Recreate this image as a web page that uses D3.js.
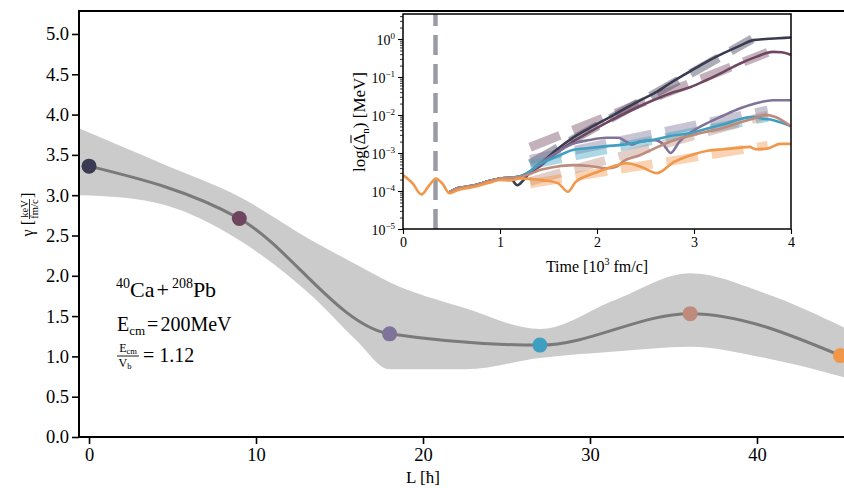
<!DOCTYPE html>
<html>
<head>
<meta charset="UTF-8">
<title>gamma vs L</title>
<style>
  body { margin: 0; background: #fff; overflow: hidden; }
  text { font-family: "Liberation Serif", "Times New Roman", serif; fill: #000; }
</style>
<script src="https://cdn.jsdelivr.net/npm/d3@7"></script>
</head>
<body>
<script>
// main panel: gamma vs angular momentum
const L = [0, 9, 18, 27, 36, 45];
const gamma = [3.36, 2.71, 1.28, 1.14, 1.53, 1.01];
const pointColors = ["#3a3a52", "#6f4660", "#7f7399", "#3e9fc0", "#bd8a7c", "#f0974a"];

// uncertainty band
const bandL = [-0.6, 2, 4.5, 9, 13.5, 16, 18, 22.5, 27, 31.5, 36, 40.5, 45.6];
const bandUpper = [3.83, 3.6, 3.38, 2.98, 2.42, 2.14, 1.92, 1.6, 1.34, 1.7, 2.03, 1.78, 1.32];
const bandLower = [3.0, 2.97, 2.88, 2.44, 1.72, 1.2, 0.84, 0.84, 0.98, 1.06, 1.12, 0.98, 0.72];

const yTicks = [0, 0.5, 1, 1.5, 2, 2.5, 3, 3.5, 4, 4.5, 5];
const xTicks = [0, 10, 20, 30, 40];

// inset: log10 of Delta_n vs time (10^3 fm/c)
const earlyT = [0, 0.1, 0.19, 0.27, 0.34, 0.41, 0.48, 0.56, 0.65, 0.75, 0.83, 0.92, 1.0, 1.1];
const earlyLog45 = [-3.58, -3.8, -4.09, -3.85, -3.67, -3.82, -4.06, -3.98, -3.93, -3.88, -3.82, -3.76, -3.71, -3.72];
const othersT = [0.48, 0.56, 0.65, 0.75, 0.83, 0.92, 1.0, 1.1];
const othersLog = [-4.03, -3.93, -3.89, -3.84, -3.78, -3.72, -3.67, -3.65];

const tailT0 = [1.18, 1.24, 1.31, 1.41, 1.58, 1.75, 1.92, 2.1, 2.27, 2.44, 2.61, 2.78, 2.96, 3.13, 3.3, 3.47, 3.61, 3.74, 3.87, 4.0];
const tailLog0 = [-3.85, -3.72, -3.5, -3.3, -2.92, -2.6, -2.35, -2.1, -1.86, -1.62, -1.4, -1.12, -0.85, -0.6, -0.38, -0.18, -0.03, 0.0, 0.02, 0.04];
const tailT9 = [1.2, 1.31, 1.41, 1.58, 1.75, 1.92, 2.1, 2.27, 2.44, 2.61, 2.78, 2.96, 3.13, 3.3, 3.47, 3.64, 3.81, 3.9, 4.0];
const tailLog9 = [-3.62, -3.5, -3.35, -3.0, -2.7, -2.45, -2.2, -1.98, -1.77, -1.58, -1.41, -1.27, -1.08, -0.87, -0.65, -0.47, -0.34, -0.35, -0.42];
const tailT18 = [1.2, 1.31, 1.41, 1.58, 1.75, 1.92, 2.1, 2.22, 2.3, 2.36, 2.44, 2.6, 2.68, 2.76, 2.85, 2.96, 3.13, 3.3, 3.47, 3.64, 3.81, 4.0];
const tailLog18 = [-3.62, -3.48, -3.28, -3.0, -2.76, -2.66, -2.6, -2.6, -2.7, -2.78, -2.7, -2.66, -2.76, -3.0, -2.7, -2.47, -2.22, -2.02, -1.83, -1.69, -1.61, -1.61];
const tailT27 = [1.2, 1.31, 1.41, 1.58, 1.75, 1.92, 2.1, 2.27, 2.44, 2.61, 2.78, 2.96, 3.13, 3.3, 3.47, 3.62, 3.71, 3.81, 3.9, 4.0];
const tailLog27 = [-3.62, -3.48, -3.3, -3.1, -2.92, -2.87, -2.82, -2.78, -2.71, -2.64, -2.54, -2.48, -2.36, -2.25, -2.11, -2.05, -2.1, -2.13, -2.2, -2.3];
const tailT36 = [1.2, 1.31, 1.41, 1.58, 1.75, 1.92, 2.1, 2.2, 2.27, 2.44, 2.61, 2.78, 2.96, 3.13, 3.3, 3.47, 3.64, 3.74, 3.84, 4.0];
const tailLog36 = [-3.63, -3.55, -3.45, -3.36, -3.32, -3.34, -3.4, -3.36, -3.22, -3.06, -2.86, -2.68, -2.54, -2.44, -2.34, -2.2, -2.07, -2.0, -2.05, -2.3];
const tailT45 = [1.21, 1.31, 1.45, 1.6, 1.7, 1.78, 1.9, 2.06, 2.31, 2.45, 2.62, 2.79, 3.0, 3.14, 3.3, 3.47, 3.57, 3.64, 3.76, 3.89, 4.0];
const tailLog45 = [-3.67, -3.68, -3.72, -3.8, -4.02, -3.76, -3.6, -3.45, -3.27, -3.36, -3.53, -3.24, -3.03, -2.94, -2.9, -2.86, -2.84, -2.9, -2.88, -2.76, -2.76];

// straight exponential fits (start/end)
const fitT = [[1.31, 3.6], [1.31, 3.76], [1.31, 3.76], [1.31, 3.76], [1.31, 3.76], [1.31, 3.76]];
const fitLog = [[-3.28, 0.0], [-2.85, -0.35], [-3.17, -1.87], [-3.31, -2.06], [-3.75, -2.0], [-3.81, -2.8]];
const onsetTime = 0.335;

const width = 844, height = 488;
const svg = d3.select("body").append("svg").attr("width", width).attr("height", height);

const x = d3.scaleLinear().domain([-0.6, 45.6]).range([79, 850.5]);
const y = d3.scaleLinear().domain([0, 5.285]).range([437, 11]);

// band
const bandData = bandL.map((l, i) => ({l, hi: bandUpper[i], lo: bandLower[i]}));
svg.append("path")
  .datum(bandData)
  .attr("fill", "#cbcbcb")
  .attr("d", d3.area().curve(d3.curveMonotoneX)
    .x(d => x(d.l)).y0(d => y(d.lo)).y1(d => y(d.hi)));

// mean curve
const pts = L.map((l, i) => ({l, g: gamma[i], c: pointColors[i]}));
svg.append("path")
  .datum(pts)
  .attr("fill", "none")
  .attr("stroke", "#7a7a7a")
  .attr("stroke-width", 3)
  .attr("d", d3.line().curve(d3.curveMonotoneX).x(d => x(d.l)).y(d => y(d.g)));

svg.selectAll("circle.pt")
  .data(pts)
  .join("circle")
  .attr("class", "pt")
  .attr("cx", d => x(d.l))
  .attr("cy", d => y(d.g))
  .attr("r", 7.5)
  .attr("fill", d => d.c);

// axes
const yAxis = svg.append("g")
  .attr("transform", "translate(79,0)")
  .call(d3.axisLeft(y).tickValues(yTicks).tickFormat(d3.format(".1f")).tickSize(7).tickPadding(3));
const xAxis = svg.append("g")
  .attr("transform", "translate(0,437)")
  .call(d3.axisBottom(x).tickValues(xTicks).tickSize(7).tickPadding(4));
[yAxis, xAxis].forEach(a => {
  a.select(".domain").remove();
  a.selectAll(".tick line").attr("stroke", "#000").attr("stroke-width", 1.6);
  a.selectAll("text").attr("font-family", "Liberation Serif").attr("font-size", 18.5).attr("fill", "#000");
});
svg.append("line").attr("x1", 79).attr("x2", 79).attr("y1", 11).attr("y2", 438)
  .attr("stroke", "#000").attr("stroke-width", 2);
svg.append("line").attr("x1", 78).attr("x2", 844).attr("y1", 437).attr("y2", 437)
  .attr("stroke", "#000").attr("stroke-width", 2);
svg.append("line").attr("x1", 78).attr("x2", 844).attr("y1", 11).attr("y2", 11)
  .attr("stroke", "#000").attr("stroke-width", 2);

// axis labels
svg.append("text").attr("x", 423).attr("y", 483).attr("text-anchor", "middle")
  .attr("font-size", 17).text("L [ħ]");

const yl = svg.append("g").attr("transform", "translate(33,216) rotate(-90)");
yl.append("text").attr("x", -4).attr("y", 0).attr("text-anchor", "end").attr("font-size", 16).text("γ [");
yl.append("text").attr("x", 7).attr("y", -5.5).attr("text-anchor", "middle").attr("font-size", 10.5).text("keV");
yl.append("line").attr("x1", -3).attr("x2", 17).attr("y1", -3.5).attr("y2", -3.5).attr("stroke", "#000").attr("stroke-width", 0.8);
yl.append("text").attr("x", 7).attr("y", 5).attr("text-anchor", "middle").attr("font-size", 10.5).text("fm/c");
yl.append("text").attr("x", 18).attr("y", 0).attr("font-size", 16).text("]");

// annotation
const t1 = svg.append("text").attr("x", 116).attr("y", 297).attr("font-size", 22);
t1.append("tspan").attr("font-size", 14).attr("dy", -9).text("40");
t1.append("tspan").attr("dy", 9).text("Ca");
t1.append("tspan").attr("dx", 2).text("+");
t1.append("tspan").attr("font-size", 14).attr("dx", 3).attr("dy", -9).text("208");
t1.append("tspan").attr("dy", 9).text("Pb");

const t2 = svg.append("text").attr("x", 117).attr("y", 331).attr("font-size", 20);
t2.append("tspan").text("E");
t2.append("tspan").attr("font-size", 13).attr("dy", 4).text("cm");
t2.append("tspan").attr("dy", -4).attr("dx", 2).text("=");
t2.append("tspan").attr("dx", 2).text("200MeV");

svg.append("text").attr("x", 128).attr("y", 352).attr("text-anchor", "middle").attr("font-size", 12)
  .text("E").append("tspan").attr("font-size", 8.5).attr("dy", 2).text("cm");
svg.append("line").attr("x1", 117).attr("x2", 139).attr("y1", 356).attr("y2", 356)
  .attr("stroke", "#000").attr("stroke-width", 0.9);
svg.append("text").attr("x", 125).attr("y", 367).attr("text-anchor", "middle").attr("font-size", 12)
  .text("V").append("tspan").attr("font-size", 8.5).attr("dy", 2).text("b");
svg.append("text").attr("x", 143).attr("y", 362).attr("font-size", 20).text("= 1.12");

// ---------- inset ----------
const ix = d3.scaleLinear().domain([0, 4]).range([403, 791]);
const iy = d3.scaleLog().domain([1e-5, 4.55]).range([229, 14]);

const inset = svg.append("g");
inset.append("rect").attr("x", 403).attr("y", 14).attr("width", 388).attr("height", 215).attr("fill", "#fff");

const clip = svg.append("clipPath").attr("id", "ic");
clip.append("rect").attr("x", 403).attr("y", 14).attr("width", 388).attr("height", 215);
const plot = inset.append("g").attr("clip-path", "url(#ic)");

// onset marker
plot.append("line")
  .attr("x1", ix(onsetTime)).attr("x2", ix(onsetTime))
  .attr("y1", 229).attr("y2", 14)
  .attr("stroke", "#9b9ba8").attr("stroke-width", 4.5)
  .attr("stroke-dasharray", "20,9");

const line = d3.line().curve(d3.curveMonotoneX)
  .x(d => ix(d[0])).y(d => iy(Math.pow(10, d[1])));

// fits
fitT.forEach((ts, i) => {
  plot.append("path")
    .datum(ts.map((t, j) => [t, fitLog[i][j]]))
    .attr("fill", "none")
    .attr("stroke", pointColors[i])
    .attr("stroke-opacity", 0.42)
    .attr("stroke-width", 9)
    .attr("stroke-dasharray", "32,14")
    .attr("d", line);
});

const tails = [[tailT0, tailLog0], [tailT9, tailLog9], [tailT18, tailLog18],
               [tailT27, tailLog27], [tailT36, tailLog36], [tailT45, tailLog45]];
tails.forEach((tl, i) => {
  let ts, ls;
  if (i === 5) { ts = earlyT.concat(tl[0]); ls = earlyLog45.concat(tl[1]); }
  else { ts = othersT.concat(tl[0]); ls = othersLog.concat(tl[1]); }
  plot.append("path")
    .datum(ts.map((t, j) => [t, ls[j]]))
    .attr("fill", "none")
    .attr("stroke", pointColors[i])
    .attr("stroke-width", 2.6)
    .attr("stroke-linejoin", "round")
    .attr("d", line);
});

// inset axes
const majors = [1e-5, 1e-4, 1e-3, 1e-2, 1e-1, 1];
const minors = [];
for (let e = -5; e <= 0; e++) for (let m = 2; m <= 9; m++) {
  const v = m * Math.pow(10, e);
  if (v < 4.55) minors.push(v);
}
const iyAxis = inset.append("g").attr("transform", "translate(403,0)")
  .call(d3.axisLeft(iy).tickValues(majors).tickSize(5).tickPadding(3).tickFormat(() => ""));
inset.append("g").attr("transform", "translate(403,0)")
  .call(d3.axisLeft(iy).tickValues(minors).tickSize(3).tickFormat(() => ""))
  .call(g => g.select(".domain").remove())
  .selectAll(".tick line").attr("stroke", "#000").attr("stroke-width", 0.8);
iyAxis.selectAll(".tick").each(function(d) {
  const e = Math.round(Math.log10(d));
  const tx = d3.select(this).select("text")
    .attr("font-size", 14).attr("font-family", "Liberation Serif").attr("fill", "#000").attr("dy", "0.4em");
  tx.append("tspan").text("10");
  tx.append("tspan").attr("font-size", 9).attr("dy", -6).text(e === 0 ? "0" : "\u2212" + Math.abs(e));
});
const ixAxis = inset.append("g").attr("transform", "translate(0,229)")
  .call(d3.axisBottom(ix).ticks(4).tickSize(5).tickPadding(3).tickFormat(d3.format("d")));
[iyAxis, ixAxis].forEach(a => {
  a.select(".domain").remove();
  a.selectAll(".tick line").attr("stroke", "#000").attr("stroke-width", 1.1);
});
ixAxis.selectAll("text").attr("font-size", 14).attr("font-family", "Liberation Serif").attr("fill", "#000");

inset.append("rect").attr("x", 403).attr("y", 14).attr("width", 388).attr("height", 215)
  .attr("fill", "none").attr("stroke", "#000").attr("stroke-width", 1.5);

const ixl = inset.append("text").attr("x", 597).attr("y", 272).attr("text-anchor", "middle").attr("font-size", 16);
ixl.append("tspan").text("Time [10");
ixl.append("tspan").attr("font-size", 10).attr("dy", -7).text("3");
ixl.append("tspan").attr("dy", 7).text(" fm/c]");

// rotated y label with a bar over Delta
const iylG = inset.append("g").attr("transform", "translate(365,122) rotate(-90)");
const iyl = iylG.append("text").attr("font-size", 17);
iyl.append("tspan").text("log(");
const deltaSpan = iyl.append("tspan").text("\u0394");
iyl.append("tspan").attr("font-size", 11).attr("dy", 4).text("n");
iyl.append("tspan").attr("dy", -4).text(") [MeV]");
const labLen = iyl.node().getComputedTextLength();
iyl.attr("x", -labLen / 2);
const dStart = iyl.node().getStartPositionOfChar(4);
const dEnd = iyl.node().getEndPositionOfChar(4);
iylG.append("line")
  .attr("x1", dStart.x + 1.5).attr("x2", dEnd.x - 1.5)
  .attr("y1", -14).attr("y2", -14)
  .attr("stroke", "#000").attr("stroke-width", 1);
</script>
</body>
</html>
